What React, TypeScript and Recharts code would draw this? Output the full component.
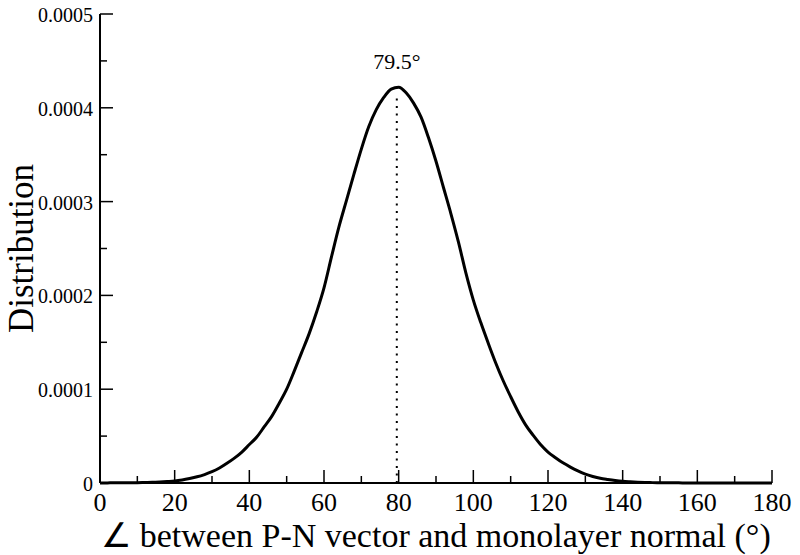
import React from 'react';
import { LineChart, Line, XAxis, YAxis, ReferenceLine, ReferenceDot, Label } from 'recharts';

const angles = [
  0, 2, 4, 6, 8, 10, 12, 14, 16, 18, 20, 22, 24, 26, 28, 30, 32, 34, 36, 38,
  40, 42, 44, 46, 48, 50, 52, 54, 56, 58, 60, 62, 64, 66, 68, 70, 72, 74, 76, 78,
  80, 82, 84, 86, 88, 90, 92, 94, 96, 98, 100, 102, 104, 106, 108, 110, 112, 114, 116, 118,
  120, 122, 124, 126, 128, 130, 132, 134, 136, 138, 140, 142, 144, 146, 148, 150, 152, 154, 156, 158,
  160, 162, 164, 166, 168, 170, 172, 174, 176, 178, 180,
];

const distribution = [
  0, 0.0000001, 0.0000002, 0.0000002, 0.0000003, 0.0000003, 0.0000005, 0.0000007, 0.0000011, 0.0000016,
  0.0000022, 0.0000033, 0.0000048, 0.0000066, 0.000009, 0.000012, 0.000016, 0.000021, 0.0000265, 0.000033,
  0.000041, 0.000049, 0.00006, 0.000071, 0.000085, 0.0001, 0.000119, 0.000139, 0.000159, 0.000182,
  0.000208, 0.000241, 0.000273, 0.000301, 0.000329, 0.000356, 0.00038, 0.000398, 0.000411, 0.00042,
  0.000422, 0.000416, 0.000405, 0.00039, 0.000368, 0.000343, 0.000315, 0.000287, 0.000257, 0.000224,
  0.000195, 0.000171, 0.000149, 0.000128, 0.000109, 0.000092, 0.000076, 0.000062, 0.000051, 0.000041,
  0.000033, 0.000027, 0.0000215, 0.000017, 0.000013, 0.0000095, 0.000007, 0.000005, 0.0000037, 0.0000026,
  0.0000018, 0.0000013, 0.0000009, 0.0000006, 0.0000004, 0.0000003, 0.0000002, 0.0000002, 0.0000001, 0.0000001,
  0.0000001, 0, 0, 0, 0, 0, 0, 0, 0, 0, 0,
];

const xTicks = [0, 10, 20, 30, 40, 50, 60, 70, 80, 90, 100, 110, 120, 130, 140, 150, 160, 170, 180];
const xMajorLabels = [0, 20, 40, 60, 80, 100, 120, 140, 160, 180];
const yTicks = [0, 0.00005, 0.0001, 0.00015, 0.0002, 0.00025, 0.0003, 0.00035, 0.0004, 0.00045, 0.0005];
const yMajorLabels = ['0', '0.0001', '0.0002', '0.0003', '0.0004', '0.0005'];

const peakAngle = 79.5;
const peakValue = 0.000415;
const peakLabel = '79.5°';
const peakLabelLevel = 0.00045;

const xTitle = '∠ between P-N vector and monolayer normal (°)';
const yTitle = 'Distribution';

const data = angles.map((a, i) => ({ angle: a, dist: distribution[i] }));

const FONT = "'Liberation Serif', 'Times New Roman', serif";
const MAJOR = 13;
const MINOR = 7;

const xIsMajor = (v: number) => xMajorLabels.indexOf(v) >= 0;
const yMajorIndex = (v: number) => {
  const k = Math.round(v * 20000);
  return k % 2 === 0 ? k / 2 : -1;
};

const BottomTick = (props: any) => {
  const { x, y, payload } = props;
  const v = payload.value;
  const major = xIsMajor(v);
  return (
    <g>
      <line x1={x} x2={x} y1={y} y2={y - (major ? MAJOR : MINOR)} stroke="#000" strokeWidth={1.5} />
      {major && (
        <text x={x} y={y + 28} textAnchor="middle" fontSize={26} fontFamily={FONT} fill="#000">
          {v}
        </text>
      )}
    </g>
  );
};

const TopTick = (props: any) => {
  const { x, y, payload } = props;
  const major = xIsMajor(payload.value);
  return <line x1={x} x2={x} y1={y} y2={y + (major ? MAJOR : MINOR)} stroke="#000" strokeWidth={1.5} />;
};

const LeftTick = (props: any) => {
  const { x, y, payload } = props;
  const idx = yMajorIndex(payload.value);
  const major = idx >= 0;
  return (
    <g>
      <line x1={x} x2={x + (major ? MAJOR : MINOR)} y1={y} y2={y} stroke="#000" strokeWidth={1.5} />
      {major && (
        <text x={x - 7} y={y + 8} textAnchor="end" fontSize={20} fontFamily={FONT} fill="#000">
          {yMajorLabels[idx]}
        </text>
      )}
    </g>
  );
};

const RightTick = (props: any) => {
  const { x, y, payload } = props;
  const major = yMajorIndex(payload.value) >= 0;
  return <line x1={x} x2={x - (major ? MAJOR : MINOR)} y1={y} y2={y} stroke="#000" strokeWidth={1.5} />;
};

const XTitle = (props: any) => {
  const vb = props.viewBox;
  return (
    <text x={vb.x + vb.width / 2} y={vb.y + 64} textAnchor="middle" fontSize={34} fontFamily={FONT} fill="#000">
      {xTitle}
    </text>
  );
};

const YTitle = (props: any) => {
  const vb = props.viewBox;
  const cx = 33;
  const cy = vb.y + vb.height / 2;
  return (
    <text x={cx} y={cy} transform={`rotate(-90 ${cx} ${cy})`} textAnchor="middle" fontSize={35} fontFamily={FONT} fill="#000">
      {yTitle}
    </text>
  );
};

const PeakLabel = (props: any) => {
  const vb = props.viewBox;
  const cx = vb.x + (vb.width || 0) / 2;
  const cy = vb.y + (vb.height || 0) / 2;
  return (
    <text x={cx} y={cy + 8} textAnchor="middle" fontSize={22} fontFamily={FONT} fill="#000">
      {peakLabel}
    </text>
  );
};

const axisLine = { stroke: '#000', strokeWidth: 2 };

export default function App() {
  return (
    <div style={{ position: 'absolute', left: 0, top: 0, background: '#fff' }}>
      <LineChart width={800} height={555} data={data} margin={{ top: 14, right: 28, left: 0, bottom: 0 }}>
        <XAxis
          xAxisId="b"
          dataKey="angle"
          type="number"
          domain={[0, 180]}
          ticks={xTicks}
          interval={0}
          orientation="bottom"
          height={72}
          tick={BottomTick}
          tickLine={false}
          tickSize={0}
          tickMargin={0}
          axisLine={axisLine}
        >
          <Label content={XTitle} />
        </XAxis>
        <XAxis
          xAxisId="t"
          dataKey="angle"
          type="number"
          domain={[0, 180]}
          ticks={xTicks}
          interval={0}
          orientation="top"
          height={0}
          tick={TopTick}
          tickLine={false}
          tickSize={0}
          tickMargin={0}
          axisLine={axisLine}
        />
        <YAxis
          yAxisId="l"
          type="number"
          domain={[0, 0.0005]}
          ticks={yTicks}
          interval={0}
          orientation="left"
          width={100}
          tick={LeftTick}
          tickLine={false}
          tickSize={0}
          tickMargin={0}
          axisLine={axisLine}
        >
          <Label content={YTitle} />
        </YAxis>
        <YAxis
          yAxisId="r"
          type="number"
          domain={[0, 0.0005]}
          ticks={yTicks}
          interval={0}
          orientation="right"
          width={0}
          tick={RightTick}
          tickLine={false}
          tickSize={0}
          tickMargin={0}
          axisLine={axisLine}
        />
        <ReferenceLine
          xAxisId="b"
          yAxisId="l"
          segment={[
            { x: peakAngle, y: 0 },
            { x: peakAngle, y: peakValue },
          ]}
          stroke="#000"
          strokeWidth={2}
          strokeDasharray="2 5.5"
        />
        <Line
          xAxisId="b"
          yAxisId="l"
          type="monotone"
          dataKey="dist"
          stroke="#000"
          strokeWidth={3}
          dot={false}
          isAnimationActive={false}
        />
        <ReferenceDot xAxisId="b" yAxisId="l" x={peakAngle} y={peakLabelLevel} r={0} fill="none" stroke="none">
          <Label content={PeakLabel} />
        </ReferenceDot>
      </LineChart>
    </div>
  );
}
